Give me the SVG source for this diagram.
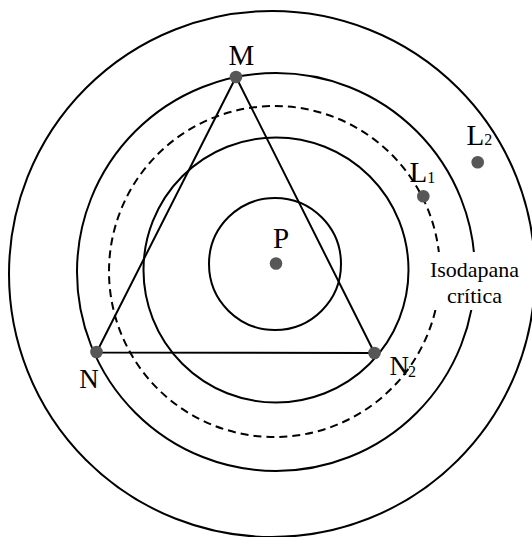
<svg xmlns="http://www.w3.org/2000/svg" width="532" height="537" viewBox="0 0 532 537">
<style>
.c{fill:none;stroke:#000;stroke-width:2}
.d{fill:none;stroke:#000;stroke-width:2;stroke-dasharray:8 5}
.dot{fill:#575757}
.t{font-family:"Liberation Serif","Times New Roman",serif;fill:#000}
.big{font-size:29px}
.mid{font-size:27px}
.sub{font-size:16px}
.lab{font-size:22px}
</style>
<rect width="532" height="537" fill="#fff"/>
<g id="circles">
<circle class="c" cx="272" cy="274" r="263"/>
<circle class="c" cx="276" cy="272" r="199"/>
<circle class="d" cx="274.5" cy="271.5" r="165.5"/>
<circle class="c" cx="276" cy="270" r="132.5"/>
<circle class="c" cx="275" cy="264" r="66"/>
</g>
<g id="connectors">
<polygon class="c" points="236,77 96.5,352.5 374.5,353"/>
</g>
<g id="node-M"><circle class="dot" cx="236" cy="77" r="6.3"/><text class="t big" x="241.5" y="64.5" text-anchor="middle">M</text></g>
<g id="node-N"><circle class="dot" cx="96.5" cy="352" r="6.3"/><text class="t mid" x="89" y="388" text-anchor="middle">N</text></g>
<g id="node-N2"><circle class="dot" cx="374.5" cy="353" r="6.3"/><text class="t mid" x="389.5" y="375">N<tspan class="sub" dx="-1" dy="2">2</tspan></text></g>
<g id="node-P"><circle class="dot" cx="276" cy="263.5" r="6.3"/><text class="t big" x="281" y="248" text-anchor="middle">P</text></g>
<g id="node-L1"><circle class="dot" cx="423.3" cy="196.3" r="6.3"/><text class="t big" x="409.5" y="182">L<tspan class="sub" dy="1">1</tspan></text></g>
<g id="node-L2"><circle class="dot" cx="477.7" cy="162.3" r="6.3"/><text class="t big" x="466.5" y="144.5">L<tspan class="sub">2</tspan></text></g>
<g id="label-isodapana">
<rect x="421" y="252" width="104" height="58" fill="#fff"/>
<text class="t lab" x="474.5" y="276.7" text-anchor="middle">Isodapana</text>
<text class="t lab" x="474.5" y="303.3" text-anchor="middle">crítica</text>
</g>
</svg>
